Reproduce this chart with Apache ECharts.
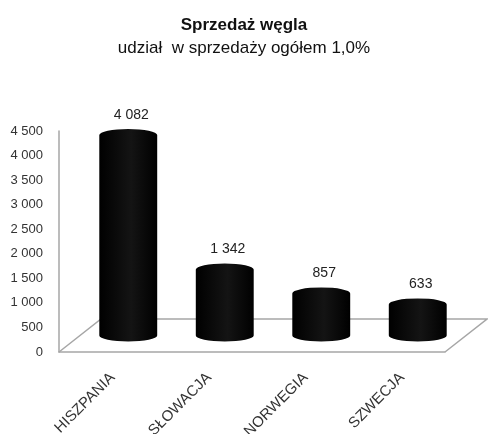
<!DOCTYPE html>
<html>
<head>
<meta charset="utf-8">
<script src="https://cdn.jsdelivr.net/npm/echarts@6/dist/echarts.min.js"></script>
<style>
  html, body { margin: 0; padding: 0; background: #fff; }
  #chart { width: 488px; height: 434px; }
</style>
</head>
<body>
<div id="chart"></div>
<script>
  const categories = ['HISZPANIA', 'SŁOWACJA', 'NORWEGIA', 'SZWECJA'];
  const values = [4082, 1342, 857, 633];
  const yTicks = { min: 0, max: 4500, interval: 500 };

  // siatka i "głębia" 3D podłogi w pikselach
  const gridL = 59, gridR = 43, gridT = 131, gridB = 82;
  const depthX = 42, depthY = -33;

  function fmt(v) {
    return String(v).replace(/\B(?=(\d{3})+(?!\d))/g, ' ');
  }

  const chart = echarts.init(document.getElementById('chart'));

  function renderCylinder(params, api) {
    const idx = api.value(0);
    const val = api.value(1);
    const top = api.coord([idx, val]);
    const base = api.coord([idx, 0]);
    const band = api.size([1, 0])[0];
    const w = band * 0.6;
    const rx = w / 2, ry = 6;
    const cx = top[0] + depthX / 2;
    const ty = top[1] + depthY / 2;
    const by = base[1] + depthY / 2;
    const l = cx - rx, r = cx + rx;
    const d = 'M' + l + ' ' + ty +
      ' A' + rx + ' ' + ry + ' 0 0 1 ' + r + ' ' + ty +
      ' L' + r + ' ' + by +
      ' A' + rx + ' ' + ry + ' 0 0 1 ' + l + ' ' + by + ' Z';
    return {
      type: 'group',
      children: [
        {
          type: 'path',
          shape: { pathData: d },
          style: {
            fill: new echarts.graphic.LinearGradient(0, 0, 1, 0, [
              { offset: 0, color: '#000' },
              { offset: 0.55, color: '#141414' },
              { offset: 1, color: '#000' }
            ])
          }
        },
        {
          type: 'text',
          style: {
            x: cx + 3, y: ty - ry - 7,
            text: fmt(val),
            textAlign: 'center', textVerticalAlign: 'bottom',
            fill: '#222', font: '14px "Liberation Sans", Arial, sans-serif'
          }
        }
      ]
    };
  }

  chart.setOption({
    animation: false,
    title: {
      text: 'Sprzedaż węgla',
      subtext: 'udział  w sprzedaży ogółem 1,0%',
      left: 'center', top: 12, itemGap: 6,
      textStyle: { fontFamily: 'Liberation Sans', fontSize: 17, fontWeight: 'bold', color: '#111' },
      subtextStyle: { fontFamily: 'Liberation Sans', fontSize: 17, color: '#111' }
    },
    grid: {
      left: gridL, right: gridR, top: gridT, bottom: gridB,
      containLabel: false, outerBoundsMode: 'none'
    },
    xAxis: {
      type: 'category',
      data: categories,
      axisLine: { lineStyle: { color: '#a6a6a6', width: 1.5 } },
      axisTick: { show: false },
      axisLabel: {
        rotate: 45, margin: 18, color: '#333',
        verticalAlign: 'top',
        fontFamily: 'Liberation Sans', fontSize: 15
      }
    },
    yAxis: {
      type: 'value',
      min: yTicks.min, max: yTicks.max, interval: yTicks.interval,
      axisLine: { show: true, lineStyle: { color: '#a6a6a6', width: 1.5 } },
      axisTick: { show: false },
      splitLine: { show: false },
      axisLabel: {
        margin: 16, color: '#333',
        fontFamily: 'Liberation Sans', fontSize: 13,
        formatter: fmt
      }
    },
    series: [{
      type: 'custom',
      renderItem: renderCylinder,
      data: values.map((v, i) => [i, v]),
      z: 10
    }]
  });

  // podłoga wykresu 3D (dekoracja)
  const y0 = chart.convertToPixel({ yAxisIndex: 0 }, 0);
  const xL = gridL, xR = 488 - gridR;
  chart.setOption({
    graphic: [{
      type: 'polyline',
      z: 1,
      shape: {
        points: [
          [xL, y0],
          [xL + depthX, y0 + depthY],
          [xR + depthX, y0 + depthY],
          [xR, y0]
        ]
      },
      style: { stroke: '#a6a6a6', lineWidth: 1.5, fill: null }
    }]
  });
</script>
</body>
</html>
